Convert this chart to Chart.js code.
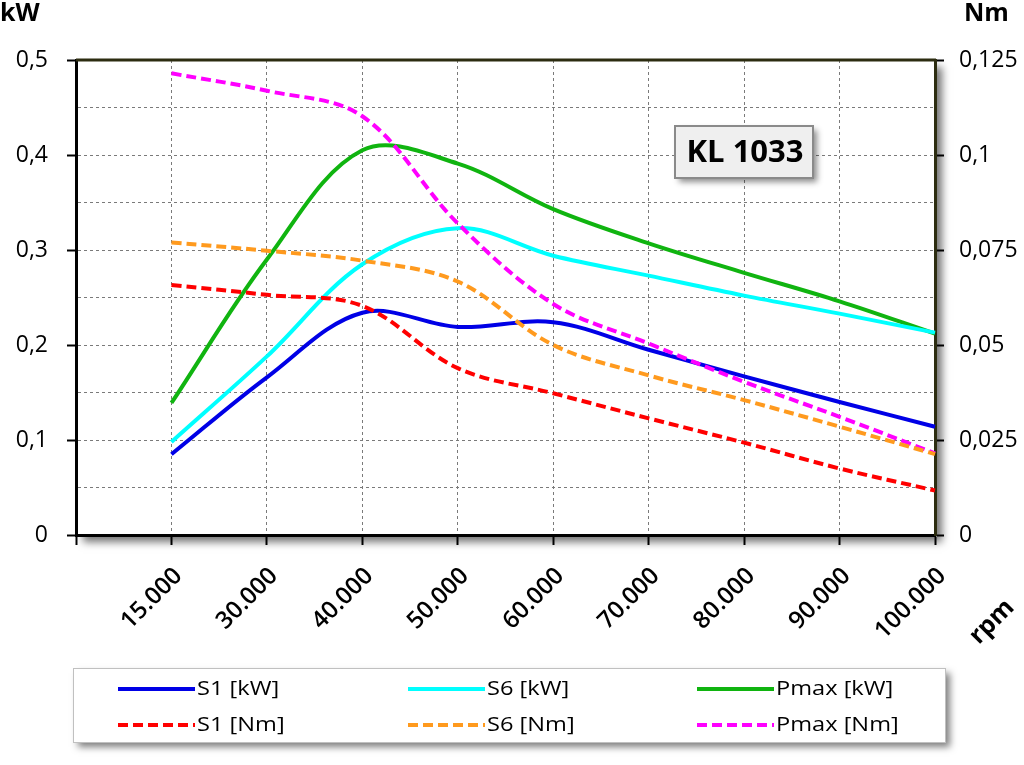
<!DOCTYPE html>
<html>
<head>
<meta charset="utf-8">
<script src="https://cdn.jsdelivr.net/npm/chart.js@4/dist/chart.umd.min.js"></script>
<style>
  body { margin: 0; background: #fff; }
  canvas { display: block; }
</style>
</head>
<body>
<canvas id="chart" width="1024" height="765"></canvas>
<script>
// rpm categories (first slot is the empty left edge of the plot)
const rpmLabels = ['', '15.000', '30.000', '40.000', '50.000', '60.000', '70.000', '80.000', '90.000', '100.000'];

// power curves, kW (left axis)
const s1kW   = [null, 0.085, 0.166, 0.234, 0.219, 0.224, 0.195, 0.167, 0.140, 0.114];
const s6kW   = [null, 0.098, 0.188, 0.285, 0.323, 0.294, 0.273, 0.252, 0.233, 0.213];
const pmaxkW = [null, 0.139, 0.290, 0.405, 0.391, 0.343, 0.307, 0.276, 0.246, 0.212];

// torque curves, Nm (right axis)
const s1Nm   = [null, 0.0658, 0.0632, 0.0603, 0.0439, 0.0373, 0.0307, 0.0243, 0.0175, 0.0117];
const s6Nm   = [null, 0.0770, 0.0748, 0.0722, 0.0667, 0.0500, 0.0420, 0.0355, 0.0285, 0.0213];
const pmaxNm = [null, 0.1215, 0.1169, 0.1102, 0.0820, 0.0608, 0.0504, 0.0403, 0.0311, 0.0215];

const FONT = "'Open Sans', 'Noto Sans', sans-serif";
const DASH = [10, 5];

const comma = v => String(parseFloat(v.toFixed(3))).replace('.', ',');

function line(label, data, color, axis, dashed) {
    return {
        label: label,
        data: data,
        borderColor: color,
        backgroundColor: color,
        borderWidth: 4,
        borderDash: dashed ? DASH : [],
        borderCapStyle: 'butt',
        pointRadius: 0,
        tension: 0.35,
        fill: false,
        yAxisID: axis,
        order: dashed ? 1 : 2
    };
}

// frame, shadows, axis titles, name plate and the 3x2 legend
const decorPlugin = {
    id: 'decor',
    beforeDraw(chart) {
        const { ctx, chartArea: a } = chart;
        ctx.save();
        ctx.shadowColor = 'rgba(0,0,0,0.55)';
        ctx.shadowBlur = 8;
        ctx.shadowOffsetX = 7;
        ctx.shadowOffsetY = 7;
        ctx.fillStyle = '#fff';
        ctx.fillRect(a.left, a.top, a.right - a.left, a.bottom - a.top);
        ctx.restore();
    },
    afterDraw(chart) {
        const { ctx, chartArea: a } = chart;
        ctx.save();
        // top frame line
        ctx.strokeStyle = '#2c2c10';
        ctx.lineWidth = 3;
        ctx.beginPath();
        ctx.moveTo(a.left, a.top);
        ctx.lineTo(a.right + 1, a.top);
        ctx.stroke();

        // axis titles
        ctx.fillStyle = '#000';
        ctx.font = 'bold 25px ' + FONT;
        ctx.textBaseline = 'middle';
        ctx.textAlign = 'left';
        ctx.fillText('kW', 0, 14);
        ctx.fillText('Nm', 964, 14);
        ctx.save();
        ctx.translate(992, 622);
        ctx.rotate(-Math.PI / 4);
        ctx.textAlign = 'center';
        ctx.fillText('rpm', 0, 0);
        ctx.restore();

        // name plate
        ctx.save();
        ctx.shadowColor = 'rgba(0,0,0,0.45)';
        ctx.shadowBlur = 6;
        ctx.shadowOffsetX = 4;
        ctx.shadowOffsetY = 4;
        ctx.fillStyle = '#efefef';
        ctx.fillRect(675, 126, 138, 52);
        ctx.restore();
        ctx.strokeStyle = '#8a8a8a';
        ctx.lineWidth = 2;
        ctx.strokeRect(675, 126, 138, 52);
        ctx.fillStyle = '#000';
        ctx.font = 'bold 31px ' + FONT;
        ctx.textAlign = 'center';
        ctx.fillText('KL 1033', 745, 153);

        // legend box
        const lx = 73, ly = 668, lw = 872, lh = 74;
        ctx.save();
        ctx.shadowColor = 'rgba(0,0,0,0.5)';
        ctx.shadowBlur = 7;
        ctx.shadowOffsetX = 5;
        ctx.shadowOffsetY = 5;
        ctx.fillStyle = '#fff';
        ctx.fillRect(lx, ly, lw, lh);
        ctx.restore();
        ctx.strokeStyle = '#c0c0c0';
        ctx.lineWidth = 1;
        ctx.strokeRect(lx + 0.5, ly + 0.5, lw, lh);

        const cols = [118, 408, 697];
        const rows = [689, 725];
        ctx.font = '20px ' + FONT;
        ctx.textAlign = 'left';
        chart.data.datasets.forEach((ds, i) => {
            const x = cols[i % 3];
            const y = rows[Math.floor(i / 3)];
            ctx.strokeStyle = ds.borderColor;
            ctx.lineWidth = 4;
            ctx.lineCap = 'butt';
            ctx.setLineDash(ds.borderDash);
            ctx.beginPath();
            ctx.moveTo(x, y);
            ctx.lineTo(x + 77, y);
            ctx.stroke();
            ctx.setLineDash([]);
            // the original legend text is set wide
            ctx.save();
            ctx.translate(x + 79, y);
            ctx.scale(1.18, 1);
            ctx.fillStyle = '#000';
            ctx.fillText(ds.label, 0, 0);
            ctx.restore();
        });
        ctx.restore();
    }
};

new Chart(document.getElementById('chart'), {
    type: 'line',
    data: {
        labels: rpmLabels,
        datasets: [
            line('S1 [kW]', s1kW, '#0000e6', 'y', false),
            line('S6 [kW]', s6kW, '#00ffff', 'y', false),
            line('Pmax [kW]', pmaxkW, '#10b410', 'y', false),
            line('S1 [Nm]', s1Nm, '#ff0000', 'y1', true),
            line('S6 [Nm]', s6Nm, '#ff9a1e', 'y1', true),
            line('Pmax [Nm]', pmaxNm, '#ff00ff', 'y1', true)
        ]
    },
    options: {
        responsive: false,
        animation: false,
        layout: { padding: { top: 60, left: 0, right: 0, bottom: 0 } },
        plugins: {
            legend: { display: false },
            tooltip: { enabled: false }
        },
        scales: {
            x: {
                type: 'category',
                offset: false,
                afterFit: s => { s.height = 230; },
                grid: { color: '#7a7a7a', lineWidth: 1, tickLength: 10, tickColor: '#000', tickWidth: 2 },
                border: { color: '#000', width: 3, dash: [3, 3] },
                ticks: {
                    autoSkip: false,
                    minRotation: 45,
                    maxRotation: 45,
                    padding: 17,
                    labelOffset: 7,
                    color: '#000',
                    font: { family: FONT, size: 24, weight: '600' }
                }
            },
            y: {
                position: 'left',
                min: 0,
                max: 0.5,
                afterFit: s => { s.width = 76; },
                grid: {
                    color: '#7a7a7a',
                    lineWidth: 1,
                    tickLength: 9,
                    tickWidth: 2,
                    tickColor: c => (c.index % 2 ? 'rgba(0,0,0,0)' : '#000')
                },
                border: { color: '#000', width: 3, dash: [3, 3] },
                ticks: {
                    stepSize: 0.05,
                    padding: 19,
                    color: '#000',
                    font: { family: FONT, size: 23 },
                    callback: (v, i) => (i % 2 ? '' : comma(v))
                }
            },
            y1: {
                position: 'right',
                min: 0,
                max: 0.125,
                afterFit: s => { s.width = 89; },
                grid: { drawOnChartArea: false, tickLength: 9, tickWidth: 2, tickColor: '#000' },
                border: { color: '#2c2c10', width: 3 },
                ticks: {
                    stepSize: 0.025,
                    padding: 15,
                    color: '#000',
                    font: { family: FONT, size: 23 },
                    callback: v => comma(v)
                }
            }
        }
    },
    plugins: [decorPlugin]
});
</script>
</body>
</html>
